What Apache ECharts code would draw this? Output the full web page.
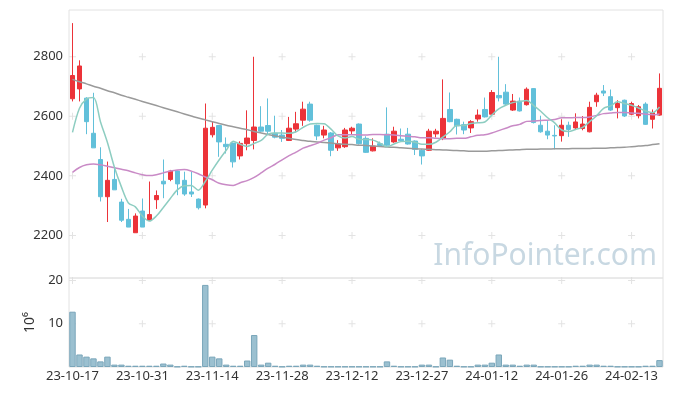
<!DOCTYPE html>
<html><head><meta charset="utf-8">
<script src="https://cdn.jsdelivr.net/npm/echarts@6/dist/echarts.min.js"></script>
<style>html,body{margin:0;padding:0;background:#fff}#c{width:673px;height:396px}</style>
</head><body><div id="c"></div>
<script>
const dates = [
'23-10-17','23-10-18','23-10-19','23-10-20','23-10-23','23-10-24','23-10-25','23-10-26','23-10-27','23-10-30',
'23-10-31','23-11-01','23-11-02','23-11-03','23-11-06','23-11-07','23-11-08','23-11-09','23-11-10','23-11-13',
'23-11-14','23-11-15','23-11-16','23-11-17','23-11-20','23-11-21','23-11-22','23-11-23','23-11-24','23-11-27',
'23-11-28','23-11-29','23-11-30','23-12-01','23-12-04','23-12-05','23-12-06','23-12-07','23-12-08','23-12-11',
'23-12-12','23-12-13','23-12-14','23-12-15','23-12-18','23-12-19','23-12-20','23-12-21','23-12-22','23-12-26',
'23-12-27','23-12-28','24-01-02','24-01-03','24-01-04','24-01-05','24-01-08','24-01-09','24-01-10','24-01-11',
'24-01-12','24-01-15','24-01-16','24-01-17','24-01-18','24-01-19','24-01-22','24-01-23','24-01-24','24-01-25',
'24-01-26','24-01-29','24-01-30','24-01-31','24-02-01','24-02-02','24-02-05','24-02-06','24-02-07','24-02-08',
'24-02-13','24-02-14','24-02-15','24-02-16','24-02-19'];

const openP = [
2659,2692,2661,2543,2455,2330,2388,2312,2254,2209,
2282,2251,2320,2382,2388,2416,2385,2346,2322,2302,
2538,2569,2506,2510,2467,2508,2519,2564,2569,2543,
2537,2519,2557,2587,2641,2570,2537,2544,2494,2498,
2551,2574,2526,2484,2508,2540,2514,2523,2540,2517,
2486,2486,2541,2525,2623,2590,2572,2561,2591,2623,
2607,2670,2681,2621,2651,2639,2693,2570,2550,2536,
2535,2570,2561,2559,2548,2649,2685,2666,2629,2654,
2607,2602,2641,2590,2604];
const closeP = [
2737,2769,2582,2494,2330,2385,2353,2251,2228,2265,
2228,2270,2334,2373,2416,2373,2339,2339,2293,2560,
2563,2514,2498,2447,2509,2527,2564,2550,2550,2530,
2526,2560,2575,2624,2587,2534,2554,2486,2507,2554,
2560,2508,2479,2500,2502,2503,2550,2518,2507,2489,
2467,2550,2550,2593,2582,2568,2554,2582,2604,2598,
2680,2662,2641,2651,2618,2691,2579,2548,2537,2534,
2570,2556,2581,2574,2630,2671,2678,2621,2643,2601,
2643,2632,2573,2612,2694];
const lowP = [
2650,2650,2540,2494,2314,2245,2353,2245,2228,2209,
2228,2248,2289,2325,2382,2335,2333,2329,2287,2291,
2529,2464,2475,2428,2455,2486,2489,2548,2537,2526,
2514,2517,2546,2568,2582,2520,2526,2466,2484,2494,
2540,2505,2477,2482,2497,2501,2511,2515,2505,2470,
2438,2484,2529,2520,2580,2539,2540,2544,2582,2596,
2604,2650,2638,2618,2616,2636,2576,2545,2523,2489,
2515,2531,2556,2553,2546,2632,2668,2618,2593,2598,
2604,2593,2571,2559,2602];
const highP = [
2913,2788,2664,2679,2496,2448,2428,2323,2289,2274,
2324,2381,2351,2455,2420,2418,2414,2414,2324,2643,
2582,2571,2529,2512,2516,2620,2800,2634,2660,2602,
2554,2598,2615,2649,2649,2572,2568,2547,2520,2561,
2565,2576,2533,2526,2515,2630,2565,2559,2561,2519,
2490,2558,2558,2724,2680,2592,2582,2587,2623,2663,
2688,2800,2708,2675,2663,2697,2695,2602,2584,2570,
2590,2582,2610,2601,2649,2679,2705,2690,2654,2656,
2649,2638,2647,2623,2744];

const maShort = [
2546,2627,2658,2663,2582,2512,2429,2363,2309,2296,
2265,2248,2265,2294,2324,2353,2367,2368,2352,2381,
2419,2454,2486,2516,2506,2499,2509,2519,2540,2544,
2544,2543,2548,2563,2574,2576,2575,2557,2534,2527,
2532,2523,2522,2520,2510,2498,2507,2515,2516,2513,
2506,2506,2513,2530,2548,2569,2569,2576,2578,2581,
2604,2625,2637,2646,2650,2653,2636,2617,2595,2578,
2554,2549,2556,2563,2582,2602,2627,2635,2649,2643,
2637,2628,2618,2612,2631];
const maMid = [
2412,2428,2437,2440,2437,2432,2427,2422,2417,2410,
2404,2401,2404,2410,2416,2420,2421,2416,2407,2396,
2387,2375,2370,2368,2377,2384,2395,2410,2426,2439,
2454,2468,2480,2493,2501,2509,2520,2528,2538,2538,
2538,2538,2537,2539,2539,2538,2537,2535,2533,2531,
2528,2528,2526,2525,2525,2526,2526,2531,2536,2538,
2544,2552,2560,2568,2573,2583,2584,2586,2587,2589,
2595,2595,2596,2596,2598,2603,2609,2611,2613,2613,
2611,2610,2607,2605,2608];
const maLong = [
2724,2716,2709,2701,2694,2686,2679,2671,2664,2657,
2650,2643,2636,2629,2622,2615,2608,2601,2594,2588,
2582,2576,2570,2565,2560,2555,2549,2544,2539,2534,
2530,2526,2522,2519,2516,2514,2512,2510,2508,2506,
2505,2503,2502,2500,2499,2497,2496,2494,2493,2491,
2490,2489,2488,2487,2486,2485,2484,2483,2483,2483,
2484,2485,2486,2487,2488,2489,2489,2490,2490,2491,
2491,2491,2492,2492,2492,2493,2493,2494,2495,2496,
2498,2500,2502,2505,2508];

// volume in millions (10^6)
const volume = [
12.8,2.9,2.4,2.0,1.3,2.4,0.55,0.55,0.3,0.3,
0.3,0.3,0.3,0.8,0.55,0.1,0.3,0.1,0.1,19.0,
2.4,2.0,0.55,0.3,0.3,1.5,7.4,0.55,1.0,0.3,
0.1,0.3,0.3,0.55,0.55,0.3,0.1,0.1,0.1,0.1,
0.1,0.1,0.1,0.1,0.1,1.3,0.3,0.1,0.1,0.1,
0.55,0.55,0.1,2.2,1.7,0.3,0.1,0.1,0.55,0.55,
1.0,2.9,0.55,0.55,0.3,0.55,0.55,0.1,0.1,0.1,
0.1,0.1,0.3,0.3,0.55,0.55,0.3,0.3,0.1,0.1,
0.1,0.1,0.3,0.3,1.6];

const priceTicks = [2200, 2400, 2600, 2800];
const volumeTicks = [10, 20];
const labelEvery = 10;

const candles = dates.map((d, i) => [openP[i], closeP[i], lowP[i], highP[i]]);
const tickIdx = dates.map((d, i) => i).filter(i => i % labelEvery === 0);
const crossTop = [];
tickIdx.forEach(i => priceTicks.forEach(v => crossTop.push([i, v])));
const crossBottom = [];
tickIdx.forEach(i => volumeTicks.forEach(v => crossBottom.push([i, v])));

const FONT = '"Noto Sans", sans-serif';
const UP = '#ec3339', DOWN = '#62c0da';
const crossSym = 'path://M0,3h7v1h-7z M3,0h1v7h-1z';
const plain = v => String(v);

const chart = echarts.init(document.getElementById('c'), null, {renderer: 'canvas'});
chart.setOption({
  animation: false,
  backgroundColor: '#fff',
  textStyle: {fontFamily: FONT},
  grid: [
    {left: 69, top: 10, width: 594, height: 268, show: true, borderColor: '#e2e2e2', borderWidth: 1},
    {left: 69, top: 278, width: 594, height: 89, show: true, borderColor: '#e2e2e2', borderWidth: 1}
  ],
  graphic: [{
    type: 'text', x: 657, y: 256, z: 0, silent: true,
    style: {text: 'InfoPointer.com', fill: '#c8d8e2', font: '30px "Noto Sans"', align: 'right', verticalAlign: 'middle'}
  }],
  xAxis: [
    {type: 'category', gridIndex: 0, data: dates, boundaryGap: true,
     axisLabel: {show: false}, axisTick: {show: false}, axisLine: {show: false}, splitLine: {show: false}},
    {type: 'category', gridIndex: 1, data: dates, boundaryGap: true,
     axisLabel: {interval: labelEvery - 1, fontSize: 13, color: '#333', margin: 3, fontFamily: FONT},
     axisTick: {show: false}, axisLine: {show: false}, splitLine: {show: false}}
  ],
  yAxis: [
    {type: 'value', gridIndex: 0, min: 2057, max: 2957, scale: true,
     axisLabel: {customValues: priceTicks, formatter: plain, fontSize: 13, color: '#333', margin: 6, fontFamily: FONT},
     axisTick: {show: false}, axisLine: {show: false}, splitLine: {show: false}},
    {type: 'value', gridIndex: 1, min: 0, max: 20.6,
     name: '10⁶', nameLocation: 'middle', nameRotate: 90, nameGap: 29,
     nameTextStyle: {fontSize: 14, color: '#333', fontFamily: FONT},
     axisLabel: {customValues: volumeTicks, formatter: plain, fontSize: 13, color: '#333', margin: 6, fontFamily: FONT},
     axisTick: {show: false}, axisLine: {show: false}, splitLine: {show: false}}
  ],
  series: [
    {type: 'scatter', xAxisIndex: 0, yAxisIndex: 0, data: crossTop, symbol: crossSym, symbolSize: 7,
     itemStyle: {color: '#dcdcdc'}, silent: true, z: 1},
    {type: 'scatter', xAxisIndex: 1, yAxisIndex: 1, data: crossBottom, symbol: crossSym, symbolSize: 7,
     itemStyle: {color: '#dcdcdc'}, silent: true, z: 1},
    {type: 'candlestick', xAxisIndex: 0, yAxisIndex: 0, data: candles, barWidth: 5, z: 3,
     itemStyle: {color: UP, color0: DOWN, borderColor: UP, borderColor0: DOWN, borderWidth: 1}},
    {type: 'line', xAxisIndex: 0, yAxisIndex: 0, data: maLong, showSymbol: false, smooth: 0.3, z: 4,
     lineStyle: {color: '#9a9a9a', width: 1.5}},
    {type: 'line', xAxisIndex: 0, yAxisIndex: 0, data: maMid, showSymbol: false, smooth: 0.3, z: 4,
     lineStyle: {color: '#c98ac6', width: 1.5}},
    {type: 'line', xAxisIndex: 0, yAxisIndex: 0, data: maShort, showSymbol: false, smooth: 0.3, z: 4,
     lineStyle: {color: '#8dcdc1', width: 1.5}},
    {type: 'bar', xAxisIndex: 1, yAxisIndex: 1, data: volume, barCategoryGap: '8%', z: 3,
     itemStyle: {color: '#9bc0d0', borderColor: '#7aa6ba', borderWidth: 1}}
  ]
});
</script></body></html>
